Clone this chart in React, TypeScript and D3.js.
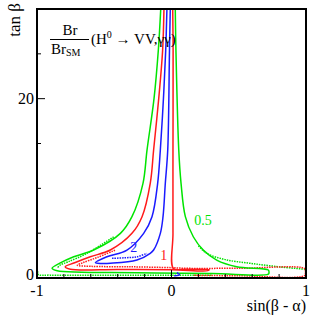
import * as d3 from 'd3';
import { useEffect, useRef } from 'react';

// contour points: [sin(beta-alpha), tan beta]
const green05: [number, number][] = [
  [-0.08, 30], [-0.098, 25.4], [-0.13, 20], [-0.182, 14.27], [-0.212, 10.56], [-0.294, 6.84],
  [-0.38, 4.98], [-0.579, 3.12], [-0.727, 2.37], [-0.83, 1.65], [-0.888, 1.08], [-0.85, 0.81],
  [-0.257, 0.59], [0.3, 0.5], [0.72, 0.42], [0.725, 0.65], [0.72, 0.89], [0.485, 1.26],
  [0.336, 2.0], [0.236, 3.12], [0.162, 4.6], [0.103, 6.84], [0.071, 10.56], [0.054, 14.27],
  [0.033, 25.4], [0.028, 30],
];
const green05DotLeft: [number, number][] = [
  [-0.43, 4.6], [-0.628, 2.75], [-0.77, 1.8], [-0.827, 1.45], [-0.85, 1.1],
];
const green05DotBottom: [number, number][] = [
  [-0.995, 0.75], [-0.99, 0.38], [-0.9, 0.32], [-0.4, 0.3], [0, 0.3], [0.3, 0.3],
];
const green05DotRight: [number, number][] = [
  [0.2, 3.6], [0.262, 2.75], [0.4, 2.05], [0.584, 1.64], [0.8, 1.25], [1.0, 0.97],
];
const red1: [number, number][] = [
  [-0.056, 30], [-0.066, 25.4], [-0.095, 20], [-0.133, 14.27], [-0.158, 10.56], [-0.219, 6.84],
  [-0.294, 4.98], [-0.455, 3.12], [-0.604, 2.37], [-0.72, 1.7], [-0.79, 1.26], [-0.752, 0.97],
  [-0.4, 0.95], [0, 0.93], [0.27, 0.82], [0.28, 0.92], [0.1, 0.97], [0.015, 1.05],
  [0.011, 5], [0.011, 14.27], [0.012, 25.4], [0.009, 30],
];
const red1Dot: [number, number][] = [
  [-0.42, 3.1], [-0.55, 2.3], [-0.66, 1.7], [-0.7, 1.42], [-0.6, 1.3], [-0.3, 1.25], [0, 1.15],
  [0.115, 1.08], [0.5, 1.08], [0.99, 1.05], [0.995, 0.7], [0.99, 0.28], [0.5, 0.25], [0.16, 0.3],
];
const blue2: [number, number][] = [
  [-0.034, 30], [-0.043, 25.4], [-0.06, 20], [-0.083, 14.27], [-0.103, 10.56], [-0.145, 6.84],
  [-0.207, 4.98], [-0.331, 3.12], [-0.48, 2.37], [-0.566, 1.71], [-0.52, 1.62], [-0.455, 1.64],
  [-0.257, 2.0], [-0.158, 2.75], [-0.133, 3.12], [-0.083, 4.98], [-0.063, 6.84], [-0.046, 10.56],
  [-0.028, 14.27], [-0.015, 25.4], [-0.009, 30],
];
const blue2Dot: [number, number][] = [
  [-0.442, 2.2], [-0.35, 2.25], [-0.257, 2.37], [-0.182, 2.75],
];
const blue2Small: [number, number][] = [
  [0.02, 0.25], [0.06, 0.35], [0.04, 0.6],
];

const xTicksMajor = [-1, 0, 1];
const xTicksMinor = [-0.8, -0.6, -0.4, -0.2, 0.2, 0.4, 0.6, 0.8];
const yTicksMajor = [0, 20];
const yTicksMinor = [5, 10, 15, 25];

const GREEN = '#00e400';
const RED = '#ff1a1a';
const BLUE = '#1a1aff';

export default function App() {
  const svgRef = useRef<SVGSVGElement>(null);

  useEffect(() => {
    if (!svgRef.current) return;
    const svg = d3.select(svgRef.current);
    svg.selectAll('*').remove();

    const margin = { left: 37, right: 9, top: 9, bottom: 38 };
    const W = 315;
    const H = 316;
    const x = d3.scaleLinear().domain([-1, 1]).range([margin.left, W - margin.right]);
    const y = d3.scaleLinear().domain([0, 30]).range([H - margin.bottom, margin.top]);
    const font = "'Liberation Serif', 'DejaVu Serif', serif";

    svg
      .append('defs')
      .append('clipPath')
      .attr('id', 'plot-clip')
      .append('rect')
      .attr('x', margin.left)
      .attr('y', margin.top)
      .attr('width', W - margin.left - margin.right)
      .attr('height', H - margin.top - margin.bottom);

    const line = d3
      .line<[number, number]>()
      .x((d) => x(d[0]))
      .y((d) => y(d[1]))
      .curve(d3.curveCatmullRom.alpha(0.5));

    const plot = svg.append('g').attr('clip-path', 'url(#plot-clip)');
    const curves: Array<{ pts: [number, number][]; color: string; dash?: string }> = [
      { pts: green05DotLeft, color: GREEN, dash: '1.5 1' },
      { pts: green05DotBottom, color: GREEN, dash: '1.5 1' },
      { pts: green05DotRight, color: GREEN, dash: '1.5 1' },
      { pts: red1Dot, color: RED, dash: '1.5 1' },
      { pts: blue2Dot, color: BLUE, dash: '1.5 1' },
      { pts: green05, color: GREEN },
      { pts: red1, color: RED },
      { pts: blue2, color: BLUE },
      { pts: blue2Small, color: BLUE },
    ];
    curves.forEach((c) => {
      plot
        .append('path')
        .datum(c.pts)
        .attr('fill', 'none')
        .attr('stroke', c.color)
        .attr('stroke-width', 1.5)
        .attr('stroke-dasharray', c.dash ?? null)
        .attr('d', line);
    });

    // contour labels
    const labels = [
      { t: '0.5', x: 0.234, y: 5.9, c: GREEN },
      { t: '2', x: -0.28, y: 2.95, c: BLUE },
      { t: '1', x: -0.058, y: 2.0, c: RED },
    ];
    labels.forEach((l) => {
      svg
        .append('text')
        .attr('x', x(l.x))
        .attr('y', y(l.y))
        .attr('fill', l.c)
        .attr('font-family', font)
        .attr('font-size', 14)
        .attr('text-anchor', 'middle')
        .text(l.t);
    });

    // ticks (inward)
    const ax = svg.append('g').attr('stroke', '#000').attr('stroke-width', 1);
    xTicksMajor.forEach((t) =>
      ax.append('line').attr('x1', x(t)).attr('x2', x(t)).attr('y1', y(0)).attr('y2', y(0) - 8),
    );
    xTicksMinor.forEach((t) =>
      ax.append('line').attr('x1', x(t)).attr('x2', x(t)).attr('y1', y(0)).attr('y2', y(0) - 4),
    );
    yTicksMajor.forEach((t) =>
      ax.append('line').attr('x1', x(-1)).attr('x2', x(-1) + 8).attr('y1', y(t)).attr('y2', y(t)),
    );
    yTicksMinor.forEach((t) =>
      ax.append('line').attr('x1', x(-1)).attr('x2', x(-1) + 4).attr('y1', y(t)).attr('y2', y(t)),
    );

    // frame
    svg
      .append('rect')
      .attr('x', margin.left)
      .attr('y', margin.top)
      .attr('width', W - margin.left - margin.right)
      .attr('height', H - margin.top - margin.bottom)
      .attr('fill', 'none')
      .attr('stroke', '#000')
      .attr('stroke-width', 2);

    // tick labels
    xTicksMajor.forEach((t) => {
      svg
        .append('text')
        .attr('x', x(t))
        .attr('y', y(0) + 18)
        .attr('text-anchor', 'middle')
        .attr('font-family', font)
        .attr('font-size', 16)
        .text(String(t));
    });
    yTicksMajor.forEach((t) => {
      svg
        .append('text')
        .attr('x', x(-1) - 3)
        .attr('y', y(t) + (t === 0 ? 2 : 5))
        .attr('text-anchor', 'end')
        .attr('font-family', font)
        .attr('font-size', 16)
        .text(String(t));
    });

    // axis titles
    svg
      .append('text')
      .attr('x', W - 9)
      .attr('y', H - 5)
      .attr('text-anchor', 'end')
      .attr('font-family', font)
      .attr('font-size', 16)
      .text('sin(β - α)');
    svg
      .append('text')
      .attr('transform', `translate(20,${margin.top - 6}) rotate(-90)`)
      .attr('text-anchor', 'end')
      .attr('font-family', font)
      .attr('font-size', 17)
      .text('tan β');

    // title: Br / Br_SM (H0 -> VV,γγ)
    const tg = svg.append('g').attr('font-family', font).attr('font-size', 15);
    tg.append('text').attr('x', 70).attr('y', 35).attr('text-anchor', 'middle').text('Br');
    tg.append('line').attr('x1', 50).attr('x2', 89).attr('y1', 39.5).attr('y2', 39.5).attr('stroke', '#000').attr('stroke-width', 1);
    const sm = tg.append('text').attr('x', 51).attr('y', 54);
    sm.append('tspan').text('Br');
    sm.append('tspan').attr('font-size', 10).attr('dy', 2).text('SM');
    const h = tg.append('text').attr('x', 91).attr('y', 44);
    h.append('tspan').text('(H');
    h.append('tspan').attr('font-size', 10).attr('dy', -6).text('0');
    h.append('tspan').attr('dy', 6).text(' → VV,γγ)');
  }, []);

  return (
    <svg
      ref={svgRef}
      width={315}
      height={316}
      style={{ position: 'absolute', left: 0, top: 0, background: '#fff' }}
    />
  );
}
